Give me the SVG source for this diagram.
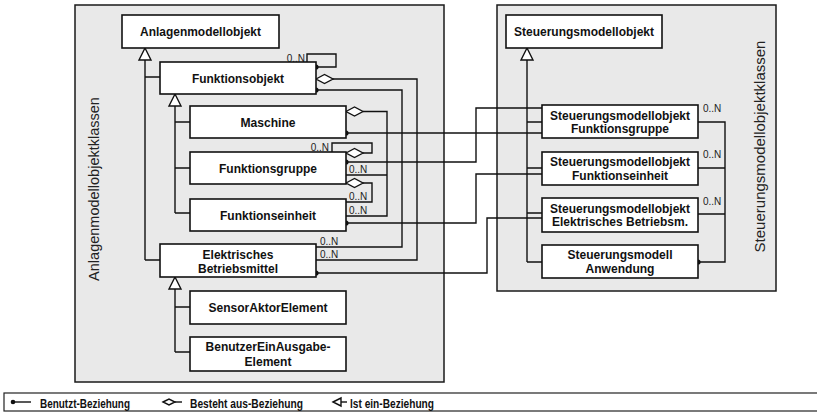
<svg xmlns="http://www.w3.org/2000/svg" width="817" height="414" viewBox="0 0 817 414">
<style>
.panel{fill:#e9e9e9;stroke:#1a1a1a;stroke-width:1.5}
.box{fill:#fff;stroke:#111;stroke-width:1.6}
.lbl{font-family:"Liberation Sans",Arial,sans-serif;font-weight:bold;font-size:13px;fill:#111;text-anchor:middle}
.card{font-family:"Liberation Sans",Arial,sans-serif;font-size:10px;fill:#222}
.vt{font-family:"Liberation Sans",Arial,sans-serif;fill:#222;text-anchor:middle}
.ln{fill:none;stroke:#111;stroke-width:1.4}
.tri{fill:#fff;stroke:#111;stroke-width:1.4}
.dia{fill:#fff;stroke:#111;stroke-width:1.4}
.dot{fill:#111}
.leg{font-family:"Liberation Sans",Arial,sans-serif;font-weight:bold;font-size:13.5px;fill:#111}
</style>

<g id="panel-anlagen">
<rect class="panel" x="75" y="5" width="369" height="377"/>
<text class="vt" font-size="14.5" transform="translate(98.5,189) rotate(-90)">Anlagenmodellobjektklassen</text>
</g>
<g id="panel-steuerung">
<rect class="panel" x="497" y="5" width="279" height="286"/>
<text class="vt" font-size="15" transform="translate(765,146.5) rotate(-90)">Steuerungsmodellobjektklassen</text>
</g>

<g id="connectors">
<path class="ln" d="M145 60V260M145 77H160M145 260H160"/>
<polygon class="tri" points="145,48 139,60 151,60"/>
<path class="ln" d="M175 106V213M175 122H190M175 168H190M175 213H190"/>
<polygon class="tri" points="175,94 169,106 181,106"/>
<path class="ln" d="M175 289V352M175 307H190M175 352H190"/>
<polygon class="tri" points="175,277 169,289 181,289"/>
<path class="ln" d="M527 60V262M527 122H542M527 168H542M527 213H542M527 262H542"/>
<polygon class="tri" points="527,48 521,60 533,60"/>

<path class="ln" d="M307 62V54H336V67H316"/>
<circle class="dot" cx="316" cy="67" r="2.6"/>
<text class="card" x="305" y="61.5" text-anchor="end">0..N</text>
<path class="ln" d="M333 79H417V260H316"/>
<polygon class="dia" points="316,79 324.5,74.5 333,79 324.5,83.5"/>
<text class="card" x="320" y="258">0..N</text>
<path class="ln" d="M316 90H402V247H316"/>
<circle class="dot" cx="316" cy="90" r="2.6"/>
<text class="card" x="320" y="245">0..N</text>
<path class="ln" d="M363 111.5H387V216H346M387 175H346"/>
<polygon class="dia" points="346,111.5 354.5,107 363,111.5 354.5,116"/>
<text class="card" x="349" y="172.5">0..N</text>
<text class="card" x="349" y="213.5">0..N</text>
<path class="ln" d="M346 133H542"/>
<circle class="dot" cx="346" cy="133" r="2.6"/>
<path class="ln" d="M332 152V143H372V153H363"/>
<polygon class="dia" points="346,153 354.5,148.5 363,153 354.5,157.5"/>
<text class="card" x="329" y="151" text-anchor="end">0..N</text>
<path class="ln" d="M346 162H476V108H542"/>
<circle class="dot" cx="346" cy="162" r="2.6"/>
<path class="ln" d="M363 183H372V202H346"/>
<polygon class="dia" points="346,183 354.5,178.5 363,183 354.5,187.5"/>
<text class="card" x="349" y="200">0..N</text>
<path class="ln" d="M346 223H476V174H542"/>
<circle class="dot" cx="346" cy="223" r="2.6"/>
<path class="ln" d="M316 273H487V218H542"/>
<circle class="dot" cx="316" cy="273" r="2.6"/>
<path class="ln" d="M698 122H725V262H698M698 168H725M698 214H725"/>
<circle class="dot" cx="698" cy="262" r="2.6"/>
<text class="card" x="703" y="111.5">0..N</text>
<text class="card" x="703" y="158">0..N</text>
<text class="card" x="703" y="204.5">0..N</text>
</g>

<g id="n-anlagenmodellobjekt"><rect class="box" x="122" y="15" width="157" height="33"/><text class="lbl" x="200.5" y="36" textLength="121" lengthAdjust="spacingAndGlyphs">Anlagenmodellobjekt</text></g>
<g id="n-funktionsobjekt"><rect class="box" x="160" y="62" width="156" height="32"/><text class="lbl" x="238" y="82.5" textLength="92" lengthAdjust="spacingAndGlyphs">Funktionsobjekt</text></g>
<g id="n-maschine"><rect class="box" x="190" y="106" width="156" height="32"/><text class="lbl" x="268" y="126.5" textLength="55" lengthAdjust="spacingAndGlyphs">Maschine</text></g>
<g id="n-funktionsgruppe"><rect class="box" x="190" y="152" width="156" height="32"/><text class="lbl" x="268" y="172.5" textLength="98" lengthAdjust="spacingAndGlyphs">Funktionsgruppe</text></g>
<g id="n-funktionseinheit"><rect class="box" x="190" y="199" width="156" height="32"/><text class="lbl" x="268" y="219.5" textLength="96" lengthAdjust="spacingAndGlyphs">Funktionseinheit</text></g>
<g id="n-elektrisches-betriebsmittel"><rect class="box" x="160" y="244" width="156" height="33"/><text class="lbl" x="238" y="258.5" textLength="71" lengthAdjust="spacingAndGlyphs">Elektrisches</text><text class="lbl" x="238" y="272.5" textLength="80" lengthAdjust="spacingAndGlyphs">Betriebsmittel</text></g>
<g id="n-sensoraktorelement"><rect class="box" x="190" y="291" width="156" height="33"/><text class="lbl" x="268" y="312" textLength="119" lengthAdjust="spacingAndGlyphs">SensorAktorElement</text></g>
<g id="n-benutzereinausgabe"><rect class="box" x="190" y="337" width="156" height="34"/><text class="lbl" x="268" y="351" textLength="125" lengthAdjust="spacingAndGlyphs">BenutzerEinAusgabe-</text><text class="lbl" x="268" y="365.5" textLength="47" lengthAdjust="spacingAndGlyphs">Element</text></g>

<g id="n-steuerungsmodellobjekt"><rect class="box" x="506" y="15" width="156" height="33"/><text class="lbl" x="584" y="36" textLength="140" lengthAdjust="spacingAndGlyphs">Steuerungsmodellobjekt</text></g>
<g id="n-smo-funktionsgruppe"><rect class="box" x="542" y="105" width="156" height="33"/><text class="lbl" x="620" y="119.5" textLength="140" lengthAdjust="spacingAndGlyphs">Steuerungsmodellobjekt</text><text class="lbl" x="620" y="133" textLength="98" lengthAdjust="spacingAndGlyphs">Funktionsgruppe</text></g>
<g id="n-smo-funktionseinheit"><rect class="box" x="542" y="152" width="156" height="33"/><text class="lbl" x="620" y="166" textLength="140" lengthAdjust="spacingAndGlyphs">Steuerungsmodellobjekt</text><text class="lbl" x="620" y="179.5" textLength="96" lengthAdjust="spacingAndGlyphs">Funktionseinheit</text></g>
<g id="n-smo-elektrisches"><rect class="box" x="542" y="198" width="156" height="34"/><text class="lbl" x="620" y="212.5" textLength="140" lengthAdjust="spacingAndGlyphs">Steuerungsmodellobjekt</text><text class="lbl" x="620" y="226" textLength="136" lengthAdjust="spacingAndGlyphs">Elektrisches Betriebsm.</text></g>
<g id="n-steuerungsmodell-anwendung"><rect class="box" x="542" y="245" width="156" height="33"/><text class="lbl" x="620" y="259" textLength="105" lengthAdjust="spacingAndGlyphs">Steuerungsmodell</text><text class="lbl" x="620" y="272.5" textLength="69" lengthAdjust="spacingAndGlyphs">Anwendung</text></g>

<g id="legend">
<rect x="4" y="393" width="820" height="18" fill="#fff" stroke="#222" stroke-width="1.2"/>
<path class="ln" d="M13 402H31"/>
<circle class="dot" cx="13" cy="402" r="2.3"/>
<text class="leg" x="40" y="407.5" textLength="90" lengthAdjust="spacingAndGlyphs">Benutzt-Beziehung</text>
<path class="ln" d="M175 402H182"/>
<polygon class="dia" points="163,402 169,399 175,402 169,405"/>
<text class="leg" x="190" y="407.5" textLength="113" lengthAdjust="spacingAndGlyphs">Besteht aus-Beziehung</text>
<path class="ln" d="M341 402H347"/>
<polygon class="tri" points="333,402 341,398 341,406"/>
<text class="leg" x="350" y="407.5" textLength="84" lengthAdjust="spacingAndGlyphs">Ist ein-Beziehung</text>
</g>
</svg>
